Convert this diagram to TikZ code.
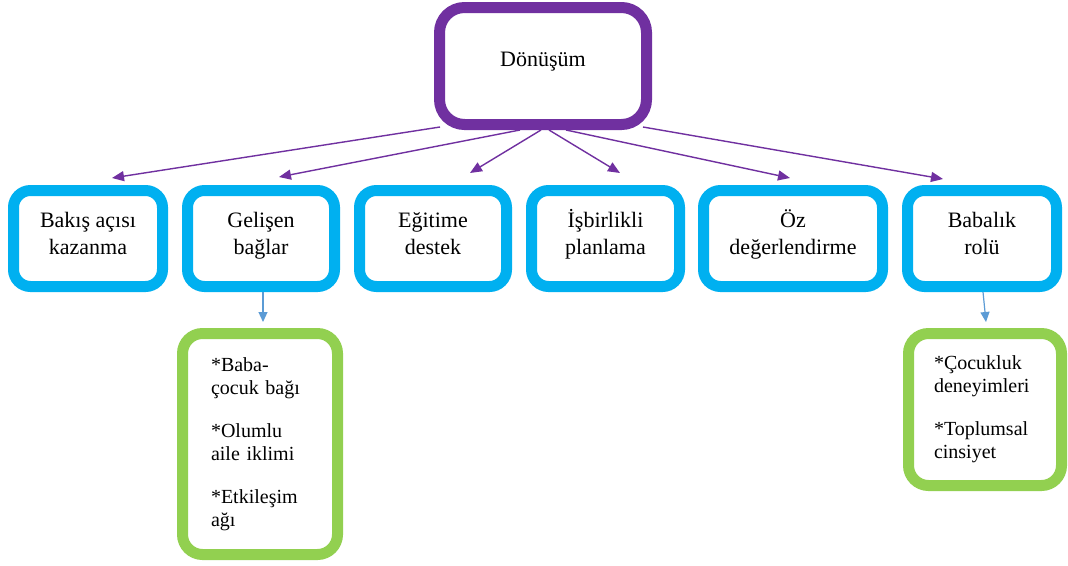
\documentclass[tikz,border=0pt]{standalone}
\usepackage{fontspec}
\setmainfont{Liberation Serif}
\usetikzlibrary{arrows.meta}
\definecolor{pur}{HTML}{7030A0}
\definecolor{blu}{HTML}{00B0F0}
\definecolor{grn}{HTML}{92D050}
\definecolor{arb}{HTML}{5B9BD5}
\newcommand{\twol}[2]{\rule{0pt}{20pt}#1\\#2\rule[-16pt]{0pt}{0pt}}
\begin{document}
\begin{tikzpicture}[x=1pt,y=-1pt,
  topbox/.style={draw=pur,line width=11pt,rounded corners=25pt,fill=white,minimum width=207pt,minimum height=117pt,inner sep=0pt,outer sep=0pt,font=\fontsize{22}{27}\selectfont,text height=15pt,text depth=14pt},
  bluebox/.style={draw=blu,line width=11pt,rounded corners=17pt,fill=white,minimum height=96pt,inner sep=0pt,outer sep=0pt,align=center,font=\fontsize{22}{27}\selectfont},
  greenbox/.style={draw=grn,line width=11pt,rounded corners=20pt,fill=white,inner sep=0pt,outer sep=0pt,align=left,font=\fontsize{20}{23}\selectfont},
  parr/.style={draw=pur,line width=1.4pt,-{Triangle[length=12pt,width=10pt]}},
  barr/.style={draw=arb,line width=1.2pt,-{Triangle[length=10pt,width=9pt]}}]
\fill[white] (0,0) rectangle (1068,565);
\useasboundingbox (0,0) rectangle (1068,565);

\node[topbox] (top) at (543,66) {Dönüşüm};

\node[bluebox,minimum width=149pt] (b1) at (88,238.5) {\twol{Bakış açısı}{kazanma}};
\node[bluebox,minimum width=147pt] (b2) at (261,238.5) {\twol{Gelişen}{bağlar}};
\node[bluebox,minimum width=147pt] (b3) at (433,238.5) {\twol{Eğitime}{destek}};
\node[bluebox,minimum width=148pt] (b4) at (605.5,238.5) {\twol{İşbirlikli}{planlama}};
\node[bluebox,minimum width=179pt] (b5) at (793,238.5) {\twol{Öz}{değerlendirme}};
\node[bluebox,minimum width=149pt] (b6) at (982,238.5) {\twol{Babalık}{rolü}};

\node[greenbox,minimum width=155pt,minimum height=221pt,text width=98pt] (g1) at (260,444)
  {*Baba-\\çocuk bağı\\[20pt]*Olumlu\\aile iklimi\\[20pt]*Etkileşim\\ağı};
\node[greenbox,minimum width=153pt,minimum height=152pt,text width=102pt] (g2) at (985,409.5)
  {*Çocukluk\\deneyimleri\\[20pt]*Toplumsal\\cinsiyet};

\draw[parr] ([xshift=-103pt,yshift=-2.5pt]top.south) -- ([xshift=24pt,yshift=12.5pt]b1.north);
\draw[parr] ([xshift=-23pt,yshift=-5.5pt]top.south) -- ([xshift=18pt,yshift=13.5pt]b2.north);
\draw[parr] ([xshift=-2pt,yshift=-5.5pt]top.south) -- ([xshift=37pt,yshift=17.5pt]b3.north);
\draw[parr] ([xshift=6pt,yshift=-5.5pt]top.south) -- ([xshift=14.5pt,yshift=17.5pt]b4.north);
\draw[parr] ([xshift=23pt,yshift=-5.5pt]top.south) -- ([xshift=-3pt,yshift=12.5pt]b5.north);
\draw[parr] ([xshift=100pt,yshift=-2.5pt]top.south) -- ([xshift=-39pt,yshift=11.5pt]b6.north);

\draw[barr] ([xshift=2pt,yshift=-5.5pt]b2.south) -- ([xshift=3pt,yshift=11.5pt]g1.north);
\draw[barr] ([xshift=1pt,yshift=-5.5pt]b6.south) -- ([xshift=1pt,yshift=11.5pt]g2.north);
\end{tikzpicture}
\end{document}
